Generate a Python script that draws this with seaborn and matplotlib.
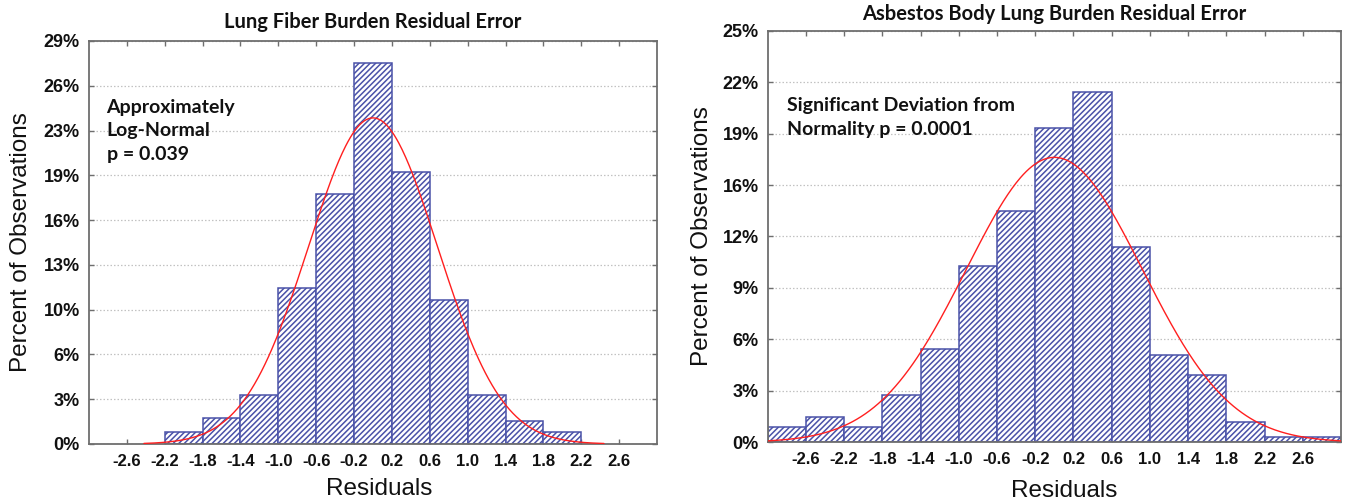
import numpy as np
import pandas as pd
import matplotlib
matplotlib.use("Agg")
import matplotlib.pyplot as plt
import seaborn as sns

# ---- residual histograms: percent of observations in 0.4-wide bins ----
fiber_edges = [-2.2, -1.8, -1.4, -1.0, -0.6, -0.2, 0.2, 0.6, 1.0, 1.4, 1.8, 2.2]
fiber_pct = [0.87, 1.85, 3.55, 11.2, 18.0, 27.45, 19.6, 10.35, 3.55, 1.62, 0.87]

body_edges = [-3.0, -2.6, -2.2, -1.8, -1.4, -1.0, -0.6, -0.2, 0.2, 0.6,
              1.0, 1.4, 1.8, 2.2, 2.6, 3.0]
body_pct = [0.91, 1.52, 0.91, 2.85, 5.65, 10.69, 14.07, 19.1, 21.3, 11.89,
            5.28, 4.09, 1.24, 0.33, 0.33]

# ---- fitted normal curves (mean, sd, plotted range) ----
fiber_mean, fiber_sd = 0.0, 0.68
fiber_curve_range = (-2.42, 2.44)
body_mean, body_sd = 0.0, 0.922
body_curve_range = (-3.0, 3.0)

# ---- axis ticks and labels ----
x_ticks = [-2.6, -2.2, -1.8, -1.4, -1.0, -0.6, -0.2, 0.2, 0.6, 1.0, 1.4, 1.8, 2.2, 2.6]
x_tick_labels = ["-2.6", "-2.2", "-1.8", "-1.4", "-1.0", "-0.6", "-0.2",
                 "0.2", "0.6", "1.0", "1.4", "1.8", "2.2", "2.6"]
fiber_ymax = 29
fiber_y_labels = ["0%", "3%", "6%", "10%", "13%", "16%", "19%", "23%", "26%", "29%"]
body_ymax = 25
body_y_labels = ["0%", "3%", "6%", "9%", "12%", "16%", "19%", "22%", "25%"]

fiber_title = "Lung Fiber Burden Residual Error"
body_title = "Asbestos Body Lung Burden Residual Error"
fiber_note = "Approximately\nLog-Normal\np = 0.039"
body_note = "Significant Deviation from\nNormality p = 0.0001"

BLUE = "#4a52a8"
RED = "#ff1f1f"
SPINE = "#6e6e6e"
GRID = "#c2c2c2"

sns.set_style("white")
plt.rcParams["font.family"] = ["Liberation Sans", "DejaVu Sans"]
plt.rcParams["hatch.linewidth"] = 1.1
plt.rcParams["hatch.color"] = BLUE

fig = plt.figure(figsize=(13.45, 5.04), dpi=100)
W, H = 1345, 504
ax_left = fig.add_axes([89 / W, (H - 444) / H, 568 / W, 403 / H])
ax_right = fig.add_axes([767.7 / W, (H - 442.3) / H, 573.3 / W, 411.6 / H])


def draw_panel(ax, edges, pct, mean, sd, curve_range, ymax, ylabels,
               title, note, note_xy, title_pad, xlabel_xy, ylabel_x):
    edge_arr = np.asarray(edges, dtype=float)
    centers = (edge_arr[:-1] + edge_arr[1:]) / 2
    width = edge_arr[1] - edge_arr[0]
    hist_df = pd.DataFrame({"residual": centers, "percent": pct})

    sns.histplot(data=hist_df, x="residual", weights="percent", bins=list(edges),
                 stat="count", ax=ax, element="bars", fill=True,
                 facecolor="white", edgecolor=BLUE, linewidth=1.1,
                 hatch="//////", alpha=1, zorder=2)

    # normal density scaled to percent per bin
    xs = np.linspace(curve_range[0], curve_range[1], 400)
    ys = 100 * width * np.exp(-0.5 * ((xs - mean) / sd) ** 2) / (sd * np.sqrt(2 * np.pi))
    sns.lineplot(x=xs, y=ys, ax=ax, color=RED, linewidth=1.0, zorder=3)

    ax.set_xlim(-3.0, 3.0)
    ax.set_ylim(0, ymax)
    ax.set_xticks(x_ticks, x_tick_labels)
    ax.set_yticks(np.linspace(0, ymax, len(ylabels)), ylabels)

    ax.tick_params(axis="both", direction="in", length=3.5, width=1.0,
                   color=SPINE, top=True, right=True, bottom=True, left=True)
    ax.tick_params(axis="x", labelsize=12, pad=7)
    ax.tick_params(axis="y", labelsize=13, pad=6.5)
    for lab in ax.get_xticklabels() + ax.get_yticklabels():
        lab.set_fontweight("bold")
        lab.set_color("#111111")

    ax.set_axisbelow(True)
    ax.yaxis.grid(True, linestyle=(0, (1.2, 1.6)), color=GRID, linewidth=0.9)
    ax.xaxis.grid(False)
    for sp in ax.spines.values():
        sp.set_color(SPINE)
        sp.set_linewidth(1.3)
        sp.set_visible(True)

    ax.set_xlabel("Residuals", fontsize=17.5, color="#111111")
    ax.xaxis.set_label_coords(*xlabel_xy)
    ax.set_ylabel("Percent of Observations", fontsize=17.5, color="#111111")
    ax.yaxis.set_label_coords(ylabel_x, 0.5)

    ax.set_title(title, fontsize=14.5, fontweight="bold", family=["Lato", "DejaVu Sans"],
                 pad=title_pad, color="#111111")
    ax.text(note_xy[0], note_xy[1], note, transform=ax.transAxes, ha="left", va="top",
            fontsize=14, fontweight="bold", family=["Lato", "DejaVu Sans"],
            linespacing=1.45, color="#111111")


draw_panel(ax_left, fiber_edges, fiber_pct, fiber_mean, fiber_sd, fiber_curve_range,
           fiber_ymax, fiber_y_labels, fiber_title, fiber_note, (0.031, 0.856),
           9.0, (0.511, -0.084), -0.100)
draw_panel(ax_right, body_edges, body_pct, body_mean, body_sd, body_curve_range,
           body_ymax, body_y_labels, body_title, body_note, (0.033, 0.838),
           7.7, (0.518, -0.092), -0.095)

fig.savefig("out.png", dpi=100, facecolor="white")
